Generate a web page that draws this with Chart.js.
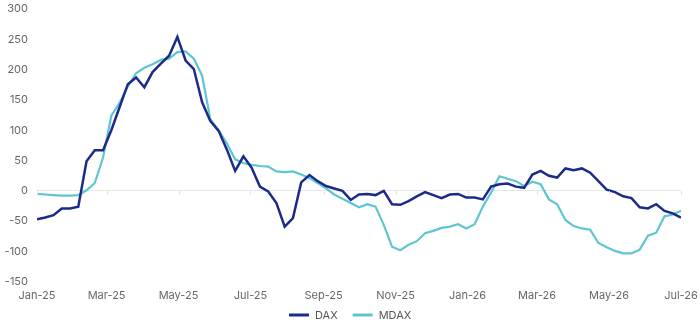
<!DOCTYPE html>
<html>
<head>
<meta charset="utf-8">
<script src="https://cdn.jsdelivr.net/npm/chart.js@4.4.1/dist/chart.umd.min.js"></script>
<style>
  html, body { margin: 0; padding: 0; background: #fff; }
  #wrap { width: 700px; height: 323px; position: relative; }
</style>
</head>
<body>
<div id="wrap"><canvas id="canvas"></canvas></div>
<script>
// weekly observation dates
const weeks = [
  '2025-01-01','2025-01-08','2025-01-15','2025-01-22','2025-01-29','2025-02-05','2025-02-12','2025-02-19','2025-02-26',
  '2025-03-05','2025-03-12','2025-03-19','2025-03-26','2025-04-02','2025-04-09','2025-04-16','2025-04-23','2025-04-30',
  '2025-05-07','2025-05-14','2025-05-21','2025-05-28','2025-06-04','2025-06-11','2025-06-18','2025-06-25','2025-07-02',
  '2025-07-09','2025-07-16','2025-07-23','2025-07-30','2025-08-06','2025-08-13','2025-08-20','2025-08-27','2025-09-03',
  '2025-09-10','2025-09-17','2025-09-24','2025-10-01','2025-10-08','2025-10-15','2025-10-22','2025-10-29','2025-11-05',
  '2025-11-12','2025-11-19','2025-11-26','2025-12-03','2025-12-10','2025-12-17','2025-12-24','2025-12-31','2026-01-07',
  '2026-01-14','2026-01-21','2026-01-28','2026-02-04','2026-02-11','2026-02-18','2026-02-25','2026-03-04','2026-03-11',
  '2026-03-18','2026-03-25','2026-04-01','2026-04-08','2026-04-15','2026-04-22','2026-04-29','2026-05-06','2026-05-13',
  '2026-05-20','2026-05-27','2026-06-03','2026-06-10','2026-06-17','2026-06-24','2026-07-01'
];

const dax = [
  -47, -44, -40, -29, -29, -26, 49, 67, 67, 100, 138, 176, 187, 171, 196, 210, 223, 254,
  215, 201, 146, 115, 99, 68, 33, 57, 38, 7, -1, -20, -59, -45, 14, 26, 16, 8,
  4, 0, -15, -6, -5, -7, 0, -22, -23, -17, -9, -2, -7, -12, -6, -5, -11, -11,
  -14, 7, 11, 12, 7, 5, 27, 33, 25, 22, 37, 34, 37, 30, 16, 2, -2, -9,
  -12, -27, -29, -22, -33, -37, -44
];

const mdax = [
  -5, -6, -7, -8, -8, -7, 1, 13, 55, 124, 145, 172, 194, 203, 209, 216, 218, 229,
  230, 218, 190, 118, 100, 78, 52, 46, 43, 41, 40, 32, 31, 32, 27, 21, 13, 4,
  -6, -13, -20, -27, -22, -26, -56, -92, -98, -89, -83, -70, -66, -61, -59, -55, -62, -55,
  -26, -3, 24, 20, 16, 8, 15, 11, -14, -22, -48, -58, -62, -64, -86, -93, -99, -103,
  -103, -97, -74, -69, -42, -39, -33
];

const tickDates = ['2025-01-01','2025-03-01','2025-05-01','2025-07-01','2025-09-01',
  '2025-11-01','2026-01-01','2026-03-01','2026-05-01','2026-07-01'];
const tickLabels = ['Jan-25','Mar-25','May-25','Jul-25','Sep-25',
  'Nov-25','Jan-26','Mar-26','May-26','Jul-26'];

const startMs = Date.parse('2025-01-01');
function dayOf(s) {
  return (Date.parse(s) - startMs) / 86400000;
}

function toPoints(values) {
  return values.map((v, i) => ({ x: dayOf(weeks[i]), y: v }));
}

// small marks on the zero line under each date label
const zeroTicks = {
  id: 'zeroTicks',
  afterDraw(chart) {
    const xs = chart.scales.x, ys = chart.scales.y;
    const ctx = chart.ctx;
    const y0 = ys.getPixelForValue(0);
    ctx.save();
    ctx.strokeStyle = '#e3e3e3';
    ctx.lineWidth = 1;
    tickDates.forEach(d => {
      const px = Math.round(xs.getPixelForValue(dayOf(d))) + 0.5;
      ctx.beginPath();
      ctx.moveTo(px, y0);
      ctx.lineTo(px, y0 + 4);
      ctx.stroke();
    });
    ctx.restore();
  }
};

// legend drawn by hand so the item gap can be wider than the builtin one allows
const lineLegend = {
  id: 'lineLegend',
  afterDraw(chart) {
    const ctx = chart.ctx;
    const sets = chart.data.datasets;
    const sample = 20, gap = 6, itemGap = 15;
    ctx.save();
    ctx.font = '11px Inter';
    ctx.textBaseline = 'middle';
    let total = 0;
    sets.forEach((ds, i) => {
      total += sample + gap + ctx.measureText(ds.label).width;
      if (i < sets.length - 1) total += itemGap;
    });
    let x = Math.round(chart.width / 2 - total / 2);
    const y = chart.height - 8;
    sets.forEach(ds => {
      ctx.strokeStyle = ds.borderColor;
      ctx.lineWidth = 3;
      ctx.beginPath();
      ctx.moveTo(x, y);
      ctx.lineTo(x + sample, y);
      ctx.stroke();
      x += sample + gap;
      ctx.fillStyle = '#555';
      ctx.fillText(ds.label, x, y + 0.5);
      x += ctx.measureText(ds.label).width + itemGap;
    });
    ctx.restore();
  }
};

const tickFont = { family: 'Inter', size: 11 };

const ctx = document.getElementById('canvas').getContext('2d');
window.myChart = new Chart(ctx, {
  type: 'line',
  data: {
    datasets: [
      {
        label: 'DAX',
        data: toPoints(dax),
        borderColor: '#1c2b8a',
        backgroundColor: '#1c2b8a',
        borderWidth: 2.5,
        pointRadius: 0,
        tension: 0
      },
      {
        label: 'MDAX',
        data: toPoints(mdax),
        borderColor: '#5ec6d0',
        backgroundColor: '#5ec6d0',
        borderWidth: 2.2,
        pointRadius: 0,
        tension: 0
      }
    ]
  },
  options: {
    responsive: true,
    maintainAspectRatio: false,
    animation: false,
    layout: { padding: { left: 0, right: 19, top: 9, bottom: 14 } },
    plugins: {
      legend: { display: false },
      tooltip: { enabled: false }
    },
    scales: {
      x: {
        type: 'linear',
        min: 0,
        max: dayOf('2026-07-01'),
        afterBuildTicks: scale => {
          scale.ticks = tickDates.map(d => ({ value: dayOf(d) }));
        },
        afterFit: scale => {
          scale.paddingLeft = 0;
          scale.paddingRight = 0;
        },
        ticks: {
          autoSkip: false,
          maxRotation: 0,
          color: '#666',
          font: tickFont,
          padding: 7,
          callback: (v, i) => tickLabels[i]
        },
        grid: { display: false, drawTicks: false },
        border: { display: false }
      },
      y: {
        min: -150,
        max: 300,
        afterFit: scale => {
          scale.width = 37;
          scale.paddingTop = 0;
          scale.paddingBottom = 0;
        },
        ticks: {
          stepSize: 50,
          color: '#666',
          font: tickFont,
          padding: 9
        },
        grid: {
          drawTicks: false,
          color: c => c.tick && c.tick.value === 0 ? '#e6e6e6' : 'rgba(0,0,0,0)'
        },
        border: { display: false }
      }
    }
  },
  plugins: [zeroTicks, lineLegend]
});
</script>
</body>
</html>
